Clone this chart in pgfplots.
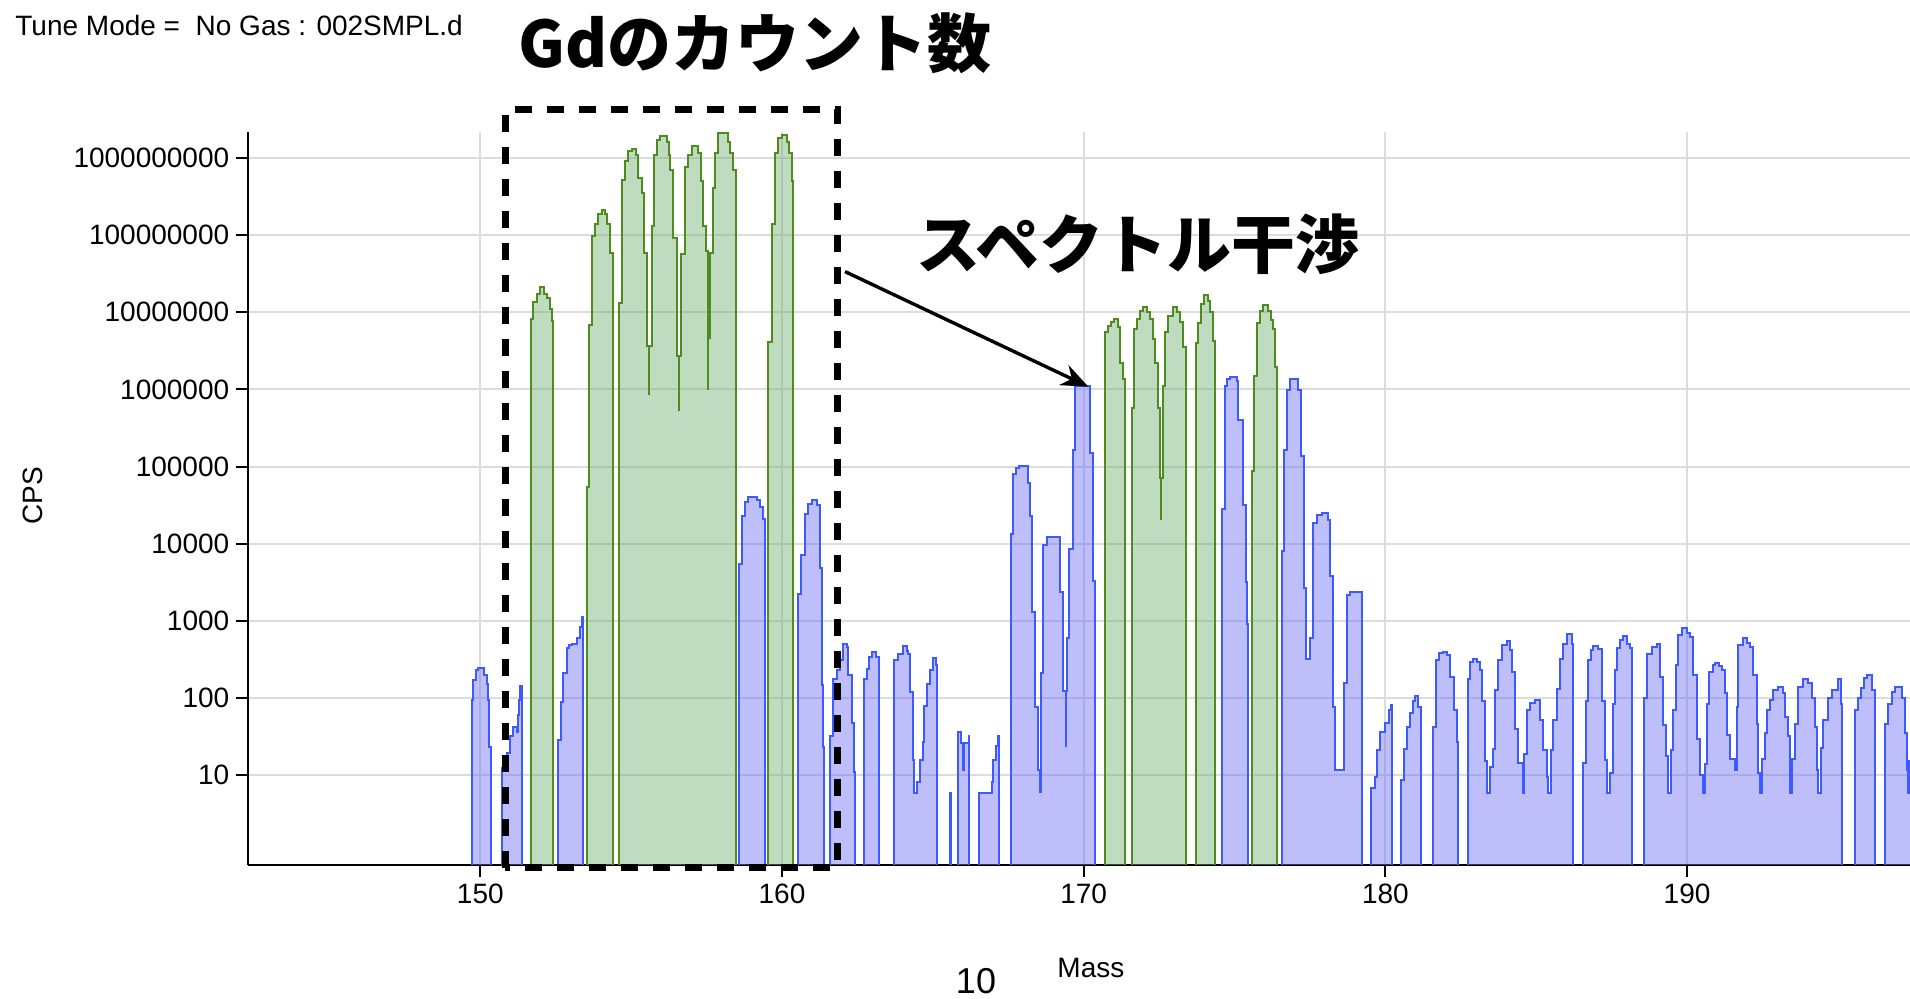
\documentclass[border=0pt]{standalone}
\usepackage{fontspec}
\setmainfont{Liberation Sans}
\newfontfamily\cjk{Noto Sans CJK JP}
\usepackage{pgfplots}
\pgfplotsset{compat=1.18}
\usetikzlibrary{arrows.meta}
\definecolor{bline}{RGB}{60,90,255}
\definecolor{bfill}{RGB}{111,111,244}
\definecolor{gline}{RGB}{78,140,30}
\definecolor{gfill}{RGB}{115,177,115}
\definecolor{gridc}{RGB}{220,220,220}
\begin{document}
\begin{tikzpicture}
\useasboundingbox (-124.15pt,-67pt) rectangle (830.85pt,432.5pt);
\begin{axis}[
  at={(0pt,0pt)}, anchor=south west,
  scale only axis, width=830.85pt, height=366.65pt,
  xmin=142.31, xmax=197.39,
  ymode=log, ymin=0.68, ymax=2.2e9,
  axis x line*=bottom, axis y line*=left,
  axis line style={black, line width=1pt, -},
  tick align=outside, major tick length=6pt,
  tick style={black, line width=1pt},
  yminorticks=false, xminorticks=false,
  xtick={150,160,170,180,190},
  xticklabels={150,160,170,180,190},
  ytick={10,100,1000,10000,100000,1000000,10000000,100000000,1000000000},
  yticklabels={10,100,1000,10000,100000,1000000,10000000,100000000,1000000000},
  grid=major, major grid style={line width=1pt, draw=gridc},
  ticklabel style={font=\fontsize{14}{16}\selectfont},
  xlabel={Mass}, ylabel={CPS},
  label style={font=\fontsize{14}{16}\selectfont},
  xlabel style={at={(axis description cs:0.5071,-0.1405)}, anchor=center},
  ylabel style={at={(axis description cs:-0.1296,0.5032)}, anchor=center},
]
% blue spectrum
\addplot[const plot, draw=bline, line width=1pt, fill=bfill, fill opacity=0.45] coordinates {
(149.71,0.3)(149.71,93)(149.77,170)(149.85,230)(149.93,245)(150.05,245)(150.13,200)(150.22,150)(150.26,93)(150.29,23)(150.37,0.3)
(150.71,12.3)(150.8,15)(150.87,19)(150.98,32)(151.1,42)(151.21,36)(151.26,60)(151.29,93)(151.33,141)(151.37,0.3)
(152.56,28)(152.66,89)(152.75,209)(152.86,437)(152.95,480)(153.03,501)(153.19,589)(153.30,832)(153.36,1122)(153.42,0.3)
(158.59,5495)(158.66,22909)(158.77,34674)(158.88,39811)(159.16,36308)(159.26,29512)(159.36,20893)(159.44,0.3)
(160.52,2239)(160.62,7079)(160.76,24547)(160.87,33113)(160.98,37154)(161.15,31623)(161.26,4898)(161.34,145)(161.37,23)(161.39,0.3)
(161.59,32)(161.70,178)(161.81,229)(161.92,309)(162.01,501)(162.14,457)(162.20,195)(162.31,47)(162.40,11)(162.42,0.3)
(162.73,178)(162.81,240)(162.90,339)(162.98,398)(163.10,339)(163.20,300)(163.23,0.3)
(163.71,309)(163.86,372)(164.0,468)(164.13,400)(164.19,372)(164.24,120)(164.33,15.5)(164.375,5.8)(164.46,8.1)(164.57,15.5)(164.66,27)(164.72,79)(164.79,151)(164.91,229)(165.02,324)(165.10,263)(165.15,0.3)
(165.57,5.8)(165.59,0.3)
(165.84,36)(165.93,26)(166.0,11.5)(166.04,26)(166.10,26)(166.19,32)(166.21,0.3)
(166.54,5.8)(166.95,8.1)(167.0,15.5)(167.09,23.4)(167.17,32)(167.20,0.3)
(167.58,13490)(167.66,79433)(167.76,95499)(167.87,102329)(168.17,60256)(168.22,22909)(168.28,1318)(168.39,76)(168.50,11.7)(168.55,6)(168.59,209)(168.66,9550)(168.77,12023)(169.21,2344)(169.32,123)(169.41,23.4)(169.42,123)(169.46,603)(169.52,8511)(169.63,162181)(169.71,1.1e6)(170.21,151356)(170.32,3311)(170.37,0.3)
(174.59,28000)(174.68,1.1e6)(174.74,1.35e6)(174.85,1.45e6)(175.07,1.3e6)(175.13,4e5)(175.29,31623)(175.37,3162)(175.40,912)(175.44,0.3)
(176.56,8100)(176.64,166000)(176.73,980000)(176.84,1.35e6)(177.10,9.8e5)(177.20,1.38e5)(177.31,2630)(177.37,316)(177.50,603)(177.61,18621)(177.72,23442)(177.89,25119)(178.11,20000)(178.16,3802)(178.25,76)(178.33,11.5)(178.63,155)(178.72,2138)(178.83,2344)(179.21,0.3)
(179.54,6.8)(179.66,9.5)(179.73,21)(179.82,36)(179.99,47)(180.13,69)(180.17,81)(180.21,0.3)
(180.51,8.7)(180.62,22)(180.73,42)(180.82,63)(180.92,90)(180.98,107)(181.09,76)(181.17,52)(181.18,0.3)
(181.59,42)(181.68,309)(181.78,380)(181.92,398)(182.05,360)(182.14,186)(182.27,69)(182.38,27)(182.42,0.3)
(182.73,178)(182.82,290)(182.91,316)(183.05,290)(183.14,229)(183.20,91)(183.30,15)(183.38,5.8)(183.47,12.6)(183.56,22)(183.63,126)(183.74,309)(183.85,480)(184.02,550)(184.12,420)(184.19,214)(184.30,40)(184.41,14.5)(184.55,5.8)(184.59,18.6)(184.68,69)(184.80,85)(184.96,93)(185.12,52)(185.24,21)(185.35,9.5)(185.40,5.8)(185.48,21)(185.54,52)(185.68,132)(185.79,316)(185.90,500)(186.01,676)(186.17,501)(186.23,0.3)
(186.56,14.5)(186.65,91)(186.73,309)(186.82,420)(186.89,468)(187.05,430)(187.17,91)(187.28,15.5)(187.36,5.8)(187.45,10.5)(187.53,83)(187.61,229)(187.69,437)(187.78,560)(187.89,631)(188.0,501)(188.11,440)(188.19,0.3)
(188.58,100)(188.66,372)(188.83,450)(188.99,501)(189.10,186)(189.19,44)(189.30,17.4)(189.38,5.8)(189.46,21)(189.54,69)(189.63,269)(189.71,646)(189.82,794)(189.99,700)(190.10,617)(190.21,195)(190.34,29)(190.43,10)(190.52,5.8)(190.59,14)(190.65,83)(190.74,219)(190.85,270)(190.93,282)(191.05,260)(191.15,229)(191.26,115)(191.33,33)(191.42,16.2)(191.59,11.5)(191.64,76)(191.70,479)(191.87,589)(192.0,520)(192.09,457)(192.20,195)(192.31,46)(192.36,10.5)(192.42,5.8)(192.47,16.2)(192.58,35)(192.64,69)(192.75,93)(192.86,126)(193.02,138)(193.19,115)(193.25,56)(193.36,32)(193.41,5.8)(193.47,16.2)(193.58,46)(193.69,138)(193.85,174)(194.02,155)(194.13,100)(194.24,42)(194.32,11.5)(194.35,5.8)(194.43,22.4)(194.52,52)(194.68,100)(194.79,126)(195.01,174)(195.09,83)(195.15,0.3)
(195.57,69)(195.68,100)(195.75,135)(195.85,180)(195.95,195)(196.12,126)(196.23,0.3)
(196.56,46)(196.67,83)(196.78,120)(196.88,138)(196.95,138)(197.11,100)(197.22,35)(197.30,11.5)(197.33,5.8)(197.36,15)(197.6,0.3)
};
% green spectrum (Gd)
\addplot[const plot, draw=gline, line width=1pt, fill=gfill, fill opacity=0.45] coordinates {
(151.68,0.3)(151.68,8.13e6)(151.76,1.38e7)(151.87,1.74e7)(151.98,2.14e7)(152.11,1.74e7)(152.22,1.55e7)(152.31,1.1e7)(152.37,7.76e6)(152.42,0.3)
(153.53,54954)(153.61,6.92e6)(153.69,9.77e7)(153.80,1.38e8)(153.91,1.86e8)(154.02,2.14e8)(154.13,1.86e8)(154.21,1.38e8)(154.30,5.89e7)(154.39,0.3)
(154.60,1.32e7)(154.69,5.25e8)(154.80,9.12e8)(154.91,1.23e9)(155.02,1.32e9)(155.16,1.1e9)(155.24,5.5e8)(155.35,3.55e8)(155.43,5.89e7)(155.52,3.63e6)(155.585,8.7e5)(155.60,3.63e6)(155.68,1.32e8)(155.76,1.1e9)(155.85,1.74e9)(155.96,1.95e9)(156.18,1.6e9)(156.24,1.1e9)(156.29,7.08e8)(156.40,9.12e7)(156.53,2.69e6)(156.575,5.4e5)(156.59,2.69e6)(156.64,5.62e7)(156.79,7.76e8)(156.90,1.1e9)(157.01,1.45e9)(157.23,1.15e9)(157.30,5e8)(157.37,1.32e8)(157.48,6.17e7)(157.535,1e6)(157.55,4.68e6)(157.61,5.89e7)(157.70,4.07e8)(157.78,1.17e9)(157.89,2.14e9)(158.22,1.6e9)(158.28,1.15e9)(158.39,7.08e8)(158.47,0.3)
(159.55,4.07e6)(159.66,1.38e8)(159.77,1.15e9)(159.88,1.82e9)(159.99,2.0e9)(160.16,1.6e9)(160.24,1.15e9)(160.34,5.01e8)(160.38,0.3)
(170.71,5.5e6)(170.80,6.6e6)(170.90,7.5e6)(171.0,8.1e6)(171.14,6.5e6)(171.22,2.2e6)(171.30,1.38e6)(171.37,0.3)
(171.59,5.75e5)(171.67,6.0e6)(171.76,8.1e6)(171.87,1.05e7)(171.98,1.17e7)(172.09,1.0e7)(172.20,8.1e6)(172.29,4.5e6)(172.36,2.2e6)(172.47,5.75e5)(172.53,7.2e4)(172.555,2.1e4)(172.57,7.2e4)(172.62,1.1e6)(172.70,5.5e6)(172.80,9e6)(172.97,1.17e7)(173.10,1.0e7)(173.19,7.6e6)(173.30,3.5e6)(173.38,0.3)
(173.71,4e6)(173.80,7.2e6)(173.88,1.3e7)(173.99,1.7e7)(174.13,1.4e7)(174.19,1.0e7)(174.30,4.3e6)(174.36,0.3)
(175.57,8.7e4)(175.64,1.48e6)(175.73,7.2e6)(175.84,1.05e7)(175.95,1.23e7)(176.12,1.05e7)(176.20,8e6)(176.29,6.0e6)(176.34,1.95e6)(176.40,0.3)
};
\end{axis}
% annotations (axis lower-left corner at origin)
\node[anchor=west, inner sep=0pt, font=\fontsize{14}{16}\selectfont] at (-116.65pt,419.7pt) {Tune Mode =\ \ No Gas : 002SMPL.d};
\node[anchor=west, inner sep=0pt, font=\cjk\bfseries\fontsize{32}{36}\selectfont] at (134.85pt,411pt) {Gdのカウント数};
\node[anchor=west, inner sep=0pt, font=\cjk\bfseries\fontsize{32}{36}\selectfont] at (333.85pt,310.5pt) {スペクトル干渉};
\draw[line width=1.7pt, -{Stealth[length=13.5pt,width=11pt]}] (298.35pt,296.7pt) -- (420pt,239.15pt);
\draw[line width=3.5pt, dash pattern=on 8.5pt off 7.5pt] (128.35pt,-1.5pt) rectangle (294.7pt,377.5pt);
\node[inner sep=0pt, font=\fontsize{18}{20}\selectfont] at (363.85pt,-58pt) {10};
\end{tikzpicture}
\end{document}
